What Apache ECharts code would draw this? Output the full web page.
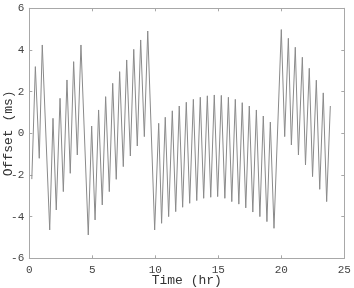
<!DOCTYPE html>
<html><head><meta charset="utf-8">
<script src="https://cdn.jsdelivr.net/npm/echarts@6/dist/echarts.min.js"></script>
<style>html,body{margin:0;padding:0;background:#fff}#c{width:354px;height:288px}</style>
</head><body><div id="c"></div>
<script>
const times = [0.2,0.48,0.79,1.03,1.62,1.88,2.14,2.44,2.70,2.99,3.25,3.52,3.81,4.10,4.68,4.95,5.22,5.5,5.79,6.06,6.35,6.62,6.90,7.17,7.46,7.73,8.02,8.29,8.57,8.84,9.13,9.40,9.95,10.27,10.5,10.79,11.06,11.35,11.62,11.9,12.17,12.46,12.73,13.02,13.29,13.57,13.84,14.13,14.40,14.68,14.95,15.24,15.52,15.8,16.07,16.35,16.63,16.9,17.18,17.46,17.74,18.02,18.3,18.57,18.86,19.13,19.42,20.0,20.27,20.56,20.80,21.11,21.36,21.67,21.92,22.22,22.48,22.78,23.05,23.33,23.6,23.89];
const offsets = [-2.2,3.2,-1.2,4.24,-4.64,0.72,-3.68,1.68,-2.8,2.56,-1.92,3.44,-1.04,4.24,-4.88,0.35,-4.16,1.12,-3.44,1.76,-2.8,2.4,-2.21,2.96,-1.6,3.52,-1.09,4.03,-0.61,4.48,-0.16,4.91,-4.64,0.48,-4.32,0.77,-4.0,1.08,-3.76,1.31,-3.55,1.49,-3.36,1.63,-3.23,1.73,-3.12,1.8,-3.07,1.84,-3.04,1.82,-3.12,1.73,-3.28,1.63,-3.4,1.47,-3.58,1.31,-3.78,1.12,-4.0,0.83,-4.24,0.54,-4.56,4.98,-0.16,4.56,-0.56,4.13,-1.04,3.65,-1.52,3.12,-2.08,2.55,-2.69,1.94,-3.28,1.31];
const xTicks = [0,5,10,15,20,25];
const yTicks = [-6,-4,-2,0,2,4,6];

const font = 'Liberation Mono, DejaVu Sans Mono, monospace';
const axisCol = '#a8a8a8';
const chart = echarts.init(document.getElementById('c'), null, {renderer:'canvas'});
const data = times.map((t,i)=>[t, offsets[i]]);
const common = {
  axisLine:{show:true, onZero:false, lineStyle:{color:axisCol, width:1}},
  axisTick:{show:true, inside:true, length:3, lineStyle:{color:axisCol}},
  splitLine:{show:false}
};
chart.setOption({
  animation:false,
  grid:{left:29.3, right:9.7, top:8.3, bottom:29.7, containLabel:false, outerBoundsMode:'none'},
  xAxis:[
    Object.assign({type:'value', min:xTicks[0], max:xTicks[xTicks.length-1], interval:5, position:'bottom',
      name:'Time (hr)', nameLocation:'middle', nameGap:16, nameMoveOverlap:false,
      nameTextStyle:{fontFamily:font, fontSize:13, color:'#333', verticalAlign:'top', lineHeight:13},
      axisLabel:{fontFamily:font, fontSize:11, color:'#444', margin:6}}, common),
    Object.assign({type:'value', min:xTicks[0], max:xTicks[xTicks.length-1], interval:5, position:'top',
      axisLabel:{show:false}}, common)
  ],
  yAxis:[
    Object.assign({type:'value', min:yTicks[0], max:yTicks[yTicks.length-1], interval:2, position:'left',
      name:'Offset (ms)', nameLocation:'middle', nameGap:14, nameMoveOverlap:false,
      nameTextStyle:{fontFamily:font, fontSize:13, color:'#333', lineHeight:13},
      axisLabel:{fontFamily:font, fontSize:11, color:'#444', margin:5}}, common),
    Object.assign({type:'value', min:yTicks[0], max:yTicks[yTicks.length-1], interval:2, position:'right',
      axisLabel:{show:false}}, common)
  ],
  series:[{type:'line', data:data, showSymbol:false, symbol:'none',
    lineStyle:{color:'#8a8a8a', width:1}, xAxisIndex:0, yAxisIndex:0}]
});
</script></body></html>
